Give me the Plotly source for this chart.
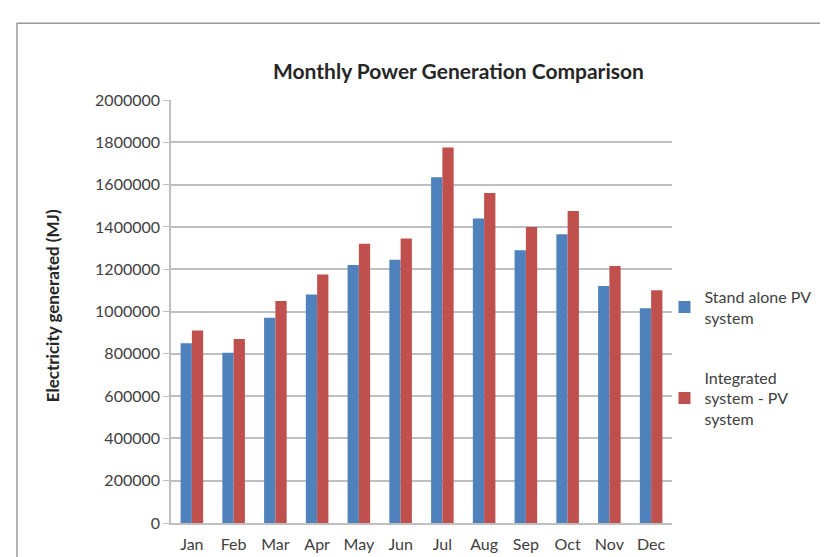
import plotly.graph_objects as go

months = ["Jan", "Feb", "Mar", "Apr", "May", "Jun", "Jul", "Aug", "Sep", "Oct", "Nov", "Dec"]
stand_alone = [850000, 805000, 970000, 1080000, 1220000, 1245000, 1635000, 1440000, 1290000, 1365000, 1120000, 1015000]
integrated = [910000, 870000, 1050000, 1175000, 1320000, 1345000, 1775000, 1560000, 1400000, 1475000, 1215000, 1100000]
y_ticks = [0, 200000, 400000, 600000, 800000, 1000000, 1200000, 1400000, 1600000, 1800000, 2000000]

FONT = "Lato"

fig = go.Figure()
fig.add_trace(go.Bar(x=months, y=stand_alone, name="Stand alone PV<br>system",
                     marker=dict(color="#4F81BD", line=dict(width=0)), legendgroup="a"))
fig.add_trace(go.Bar(x=months, y=integrated, name="Integrated<br>system - PV<br>system",
                     marker=dict(color="#C0504D", line=dict(width=0)), legendgroup="b"))

fig.update_layout(
    width=828, height=557,
    margin=dict(l=163, r=164, t=92, b=42),
    paper_bgcolor="white", plot_bgcolor="white",
    barmode="group", bargap=0.46, bargroupgap=0.0,
    font=dict(family=FONT, color="#404040", size=16),
    showlegend=True,
    legend=dict(x=0.985, xanchor="left", y=0.575, yanchor="top",
                font=dict(family=FONT, size=16, color="#404040"),
                tracegroupgap=36, itemwidth=30, bgcolor="rgba(0,0,0,0)"),
    xaxis=dict(showgrid=False, showline=True, linecolor="#BFBFBF", linewidth=1.5,
               ticks="", tickfont=dict(size=16, color="#404040"), ticklabelstandoff=6),
    yaxis=dict(range=[0, 2000000], tickvals=y_ticks, tickformat="d",
               showgrid=True, gridcolor="#BFBFBF", gridwidth=1.5,
               showline=True, linecolor="#BFBFBF", linewidth=1.5,
               ticks="outside", ticklen=6, tickcolor="#BFBFBF",
               tickfont=dict(size=16, color="#404040"), zeroline=False),
    shapes=[dict(type="rect", xref="paper", yref="paper",
                 x0=(9 - 163) / 501, x1=(840 - 163) / 501,
                 y0=(514.7 - 570) / 423, y1=(514.7 - 15) / 423,
                 line=dict(color="#9A9A9A", width=1.5), fillcolor="rgba(0,0,0,0)", layer="below")],
    annotations=[
        dict(text="<b>Monthly Power Generation Comparison</b>", xref="paper", yref="paper",
             x=(450 - 163) / 501, y=(514.7 - 62) / 423, xanchor="center", yanchor="middle",
             showarrow=False, font=dict(family=FONT, size=21, color="#262626")),
        dict(text="<b>Electricity generated (MJ)</b>", xref="paper", yref="paper",
             x=(44 - 163) / 501, y=(514.7 - 298) / 423, xanchor="center", yanchor="middle",
             textangle=-90, showarrow=False, font=dict(family=FONT, size=17, color="#262626")),
    ],
)

fig.write_html("out.html")
